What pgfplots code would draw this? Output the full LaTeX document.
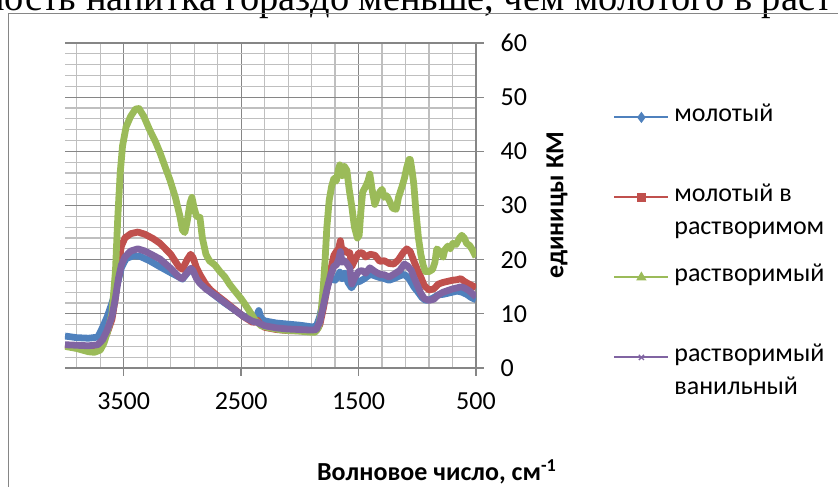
\documentclass[border=0pt]{standalone}
\usepackage{pgfplots}
\pgfplotsset{compat=1.18}
\usepackage{fontspec}
\setmainfont{Carlito}
\newfontfamily\serif{Liberation Serif}

\definecolor{sBlue}{HTML}{4F81BD}
\definecolor{sRed}{HTML}{C0504D}
\definecolor{sGreen}{HTML}{9BBB59}
\definecolor{sPurple}{HTML}{8064A2}
\definecolor{gMajor}{HTML}{868686}
\definecolor{gMinor}{HTML}{BFBFBF}

% KM spectra: wavenumber (cm^-1) and intensity
\pgfplotstableread{
x y
4000 5.9
3900 5.6
3800 5.5
3720 5.7
3680 7.5
3640 9.5
3600 12
3560 15
3520 18.5
3480 20.2
3420 20.7
3360 20.6
3280 19.8
3200 18.8
3100 17.6
3030 16.8
3000 16.4
2960 17.5
2920 18.4
2890 17.6
2850 15.9
2800 14.8
2760 14
2700 13
2640 12
2560 10.8
2480 9.6
2400 8.9
2370 9.5
2350 10.6
2330 9.2
2300 8.7
2200 8.3
2100 8.1
2000 7.9
1900 7.6
1860 7.7
1830 9.5
1800 12.5
1770 15
1740 16.5
1700 16.2
1680 16.8
1660 17.7
1640 16.5
1617 17.5
1590 15.8
1560 14.8
1530 15.8
1490 16
1450 16.5
1400 17.3
1360 17
1320 16.7
1280 16.5
1240 16.2
1190 16.6
1150 17
1110 17.3
1070 16.5
1030 15
1000 14.2
960 13
930 12.5
894 12.6
860 13
820 13.5
780 13.6
740 13.8
700 14
660 14.2
620 14
580 13.6
540 13
500 12.6
}\molotyj

\pgfplotstableread{
x y
4000 4.1
3900 4.0
3800 3.8
3720 4.2
3680 5
3640 6.5
3600 9
3570 13
3545 19
3520 22.5
3490 24
3440 24.8
3380 25.1
3320 24.7
3250 23.9
3190 23
3100 21
3030 18.7
3000 18.2
2960 20
2930 21
2910 20.4
2880 18.5
2850 17.2
2800 15.4
2760 14.4
2700 13.3
2640 12.3
2560 10.9
2480 9.5
2400 8.4
2360 8.8
2340 8.2
2300 7.5
2200 7.1
2100 6.9
2000 6.9
1900 6.8
1860 6.9
1830 8
1800 11
1770 14.5
1740 17.8
1710 20.8
1690 21.5
1670 22
1655 23.5
1640 21.5
1620 21.8
1600 21.3
1575 21.3
1557 18.8
1530 20
1500 21.2
1470 21.3
1440 20.5
1400 21
1360 20.8
1320 19.7
1280 19.8
1240 19.3
1200 19.2
1160 20
1120 21.3
1090 22
1060 21.5
1030 19.8
1000 18.2
970 16.8
940 15.2
900 14.4
860 14.6
820 15.5
780 15.8
740 16
700 16.2
660 16.3
630 16.5
600 16
560 15.5
530 15.2
500 14.8
}\molotyjVrastv

\pgfplotstableread{
x y
4000 4
3900 3.6
3800 3
3750 2.9
3700 3.3
3670 4.5
3640 6.5
3600 10
3570 18
3550 28
3530 36
3510 41
3480 44.5
3440 46.5
3400 47.8
3370 47.9
3330 46.5
3280 44
3230 41.8
3190 39.7
3150 37.3
3106 34.7
3060 31.5
3021 28
3000 25.5
2980 25
2960 27
2935 30.5
2919 31.5
2900 29.5
2880 28
2851 27.8
2830 24
2800 21
2770 19.8
2723 19
2680 17.8
2638 16.8
2600 15.5
2553 14.2
2500 12.8
2468 11.8
2420 10.2
2383 8.9
2330 7.8
2255 7.4
2150 7
2000 6.8
1900 6.6
1870 6.6
1840 7.5
1820 10
1800 15
1785 20
1770 26
1750 31
1730 33.5
1710 35
1690 34.5
1670 36.8
1660 37.5
1640 35.5
1620 37.2
1600 36.5
1580 33
1557 29.7
1535 26
1510 24
1495 24.5
1480 29
1465 32.5
1440 33.5
1420 34.5
1404 35.8
1385 33
1362 30.2
1340 31.5
1319 32.5
1300 33
1280 31.5
1260 31.8
1240 31
1210 29.5
1180 29.3
1160 31.5
1130 33.5
1110 35
1090 37
1070 38.5
1060 38.5
1045 36.5
1030 34
1010 28.5
990 24
970 21
950 19
930 17.8
900 17.8
870 18.2
850 19.5
834 22
810 21.5
780 20.5
766 21.8
740 22.5
720 22
698 23
670 22.8
640 24
621 24.5
600 24
580 23
553 22.6
530 21.8
500 20.5
}\rastvorimyj

\pgfplotstableread{
x y
4000 4.3
3900 4.2
3800 4.1
3720 4.3
3680 5.2
3640 7
3600 9.5
3570 13
3545 16.5
3520 19
3490 20.5
3440 21.6
3380 22
3320 21.6
3250 20.8
3190 20.1
3100 18.4
3030 16.8
3000 16.5
2960 17.6
2930 18.4
2910 18
2880 16.5
2850 15.6
2800 14.6
2760 14
2700 13.1
2640 12.1
2560 10.8
2480 9.5
2400 8.6
2360 8.4
2300 7.8
2200 7.4
2100 7.2
2000 7.1
1900 7
1860 7.1
1830 8.5
1800 11.5
1770 14.5
1740 17
1710 18.8
1690 19
1670 20
1655 21.5
1640 19.5
1620 19.8
1600 19.3
1575 18.5
1557 15.5
1530 16.8
1500 17.8
1470 18
1440 17.5
1404 18.5
1360 17.8
1320 17.3
1280 17.2
1240 16.8
1200 17.3
1150 18
1110 19.2
1080 18.8
1050 18
1030 16.8
1000 15.3
970 13.8
940 12.8
900 12.5
860 12.7
820 13.5
780 14
740 14.3
700 14.6
660 14.8
630 15
600 14.8
560 14.3
530 13.7
500 13.1
}\vanilnyj

\begin{document}
\begin{tikzpicture}
\path[use as bounding box, clip] (0pt,0pt) rectangle (419pt,-243pt);

% running text of the page above the chart
\node[anchor=base west, inner sep=0pt, font=\serif\fontsize{19.2}{23}\selectfont]
  at (-8pt,-5.5pt) {ность напитка гораздо меньше, чем молотого в раст};

% chart frame
\draw[gMajor, line width=0.65pt] (4.4pt,-6.6pt) rectangle (460pt,-280pt);

\begin{axis}[
  scale only axis,
  width=205.5pt, height=162.5pt,
  at={(32.5pt,-184pt)}, anchor=south west,
  xmin=500, xmax=4000, x dir=reverse,
  ymin=0, ymax=60,
  axis x line*=bottom, axis y line*=right,
  axis line style={gMajor, line width=0.65pt},
  xtick={500,1500,2500,3500},
  minor xtick={700,900,1100,1300,1700,1900,2100,2300,2700,2900,3100,3300,3700,3900},
  ytick={0,10,...,60},
  minor ytick={2,4,6,8,12,14,16,18,22,24,26,28,32,34,36,38,42,44,46,48,52,54,56,58},
  grid=both,
  major grid style={gMajor, line width=0.6pt},
  minor grid style={gMinor, line width=0.6pt},
  tick align=outside,
  major tick length=3.75pt,
  minor tick length=0pt,
  tick style={gMajor, line width=0.65pt},
  /pgf/number format/assume math mode=true,
  /pgf/number format/set thousands separator={},
  tick label style={font=\fontsize{13}{15}\selectfont},
  xticklabel style={yshift=-5pt},
  yticklabel style={anchor=west, xshift=5pt},
  legend cell align=left,
  legend style={draw=none, fill=none, inner sep=0pt,
    at={(1.3333,0.7908)}, anchor=north west,
    row sep=34pt,
    nodes={inner sep=0pt, font=\fontsize{13}{16.5}\selectfont},
    /tikz/every odd column/.append style={column sep=2.5pt}},
  legend image code/.code={%
    \path[draw=none, fill=none] (0pt,-3pt) rectangle (27pt,3pt);
    \draw[mark repeat=2, mark phase=2, #1]
      plot coordinates {(0pt,0pt) (13.5pt,0pt) (27pt,0pt)};},
]
\addplot[sBlue, line width=3.4pt, line join=round, forget plot] table {\molotyj};
\addplot[sRed, line width=3.4pt, line join=round, forget plot] table {\molotyjVrastv};
\addplot[sGreen, line width=3.4pt, line join=round, forget plot] table {\rastvorimyj};
\addplot[sPurple, line width=3.4pt, line join=round, forget plot] table {\vanilnyj};

\addlegendimage{sBlue, line width=1pt, mark=diamond*, mark size=2pt}
\addlegendentry{\smash{\raisebox{-3pt}{молотый}}}
\addlegendimage{sRed, line width=1pt, mark=square*, mark size=1.8pt}
\addlegendentry{\smash{\raisebox{-3pt}{\begin{tabular}[t]{@{}l@{}}молотый в\\растворимом\end{tabular}}}}
\addlegendimage{sGreen, line width=1pt, mark=triangle*, mark size=2pt}
\addlegendentry{\smash{\raisebox{-3pt}{растворимый}}}
\addlegendimage{sPurple, line width=1pt, mark=x, mark size=1.8pt, mark options={line width=0.7pt}}
\addlegendentry{\smash{\raisebox{-3pt}{\begin{tabular}[t]{@{}l@{}}растворимый\\ванильный\end{tabular}}}}
\end{axis}

% axis titles
\node[rotate=90, font=\bfseries\fontsize{13}{15}\selectfont, inner sep=0pt]
  at (278.5pt,-102.5pt) {единицы КМ};
\node[font=\bfseries\fontsize{13}{15}\selectfont, inner sep=0pt]
  at (218.5pt,-236pt) {Волновое число, см\textsuperscript{-1}};
\end{tikzpicture}
\end{document}
